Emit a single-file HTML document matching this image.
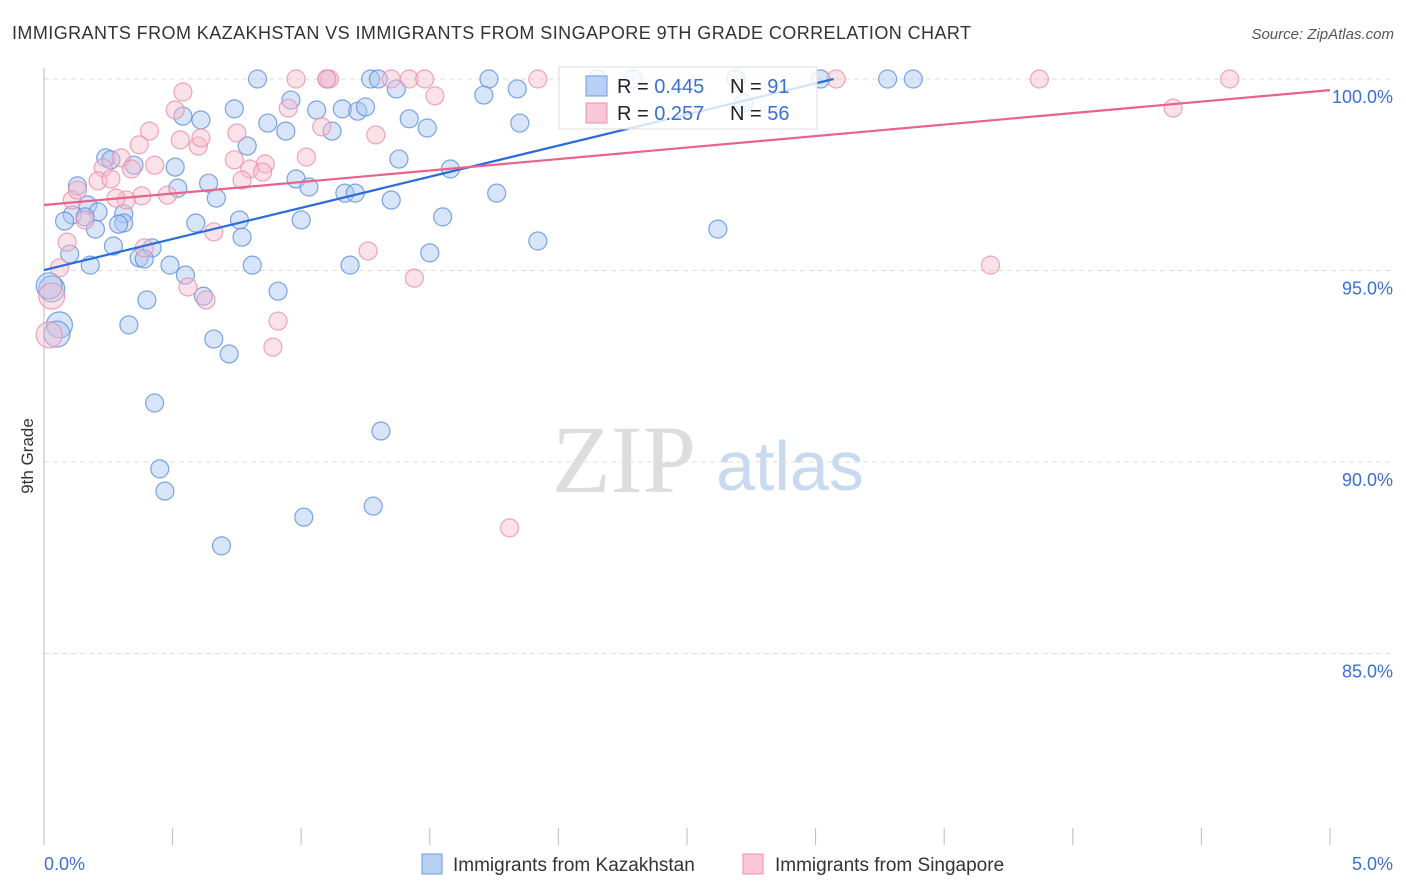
<!DOCTYPE html>
<html><head><meta charset="utf-8"><style>
body{margin:0;background:#fff;font-family:"Liberation Sans",sans-serif}
svg{display:block}
</style></head><body>
<svg id="chart" width="1406" height="892" xmlns="http://www.w3.org/2000/svg" font-family="Liberation Sans, sans-serif">
<text x="12" y="39" font-size="18" fill="#333" textLength="959" lengthAdjust="spacing">IMMIGRANTS FROM KAZAKHSTAN VS IMMIGRANTS FROM SINGAPORE 9TH GRADE CORRELATION CHART</text>
<text x="1394" y="39" font-size="15" fill="#555" text-anchor="end" font-style="italic">Source: ZipAtlas.com</text>
<text transform="translate(33,456) rotate(-90)" font-size="17" fill="#333" text-anchor="middle">9th Grade</text>
<g>
<text x="552" y="492" font-size="96" fill="#ddd" font-family="Liberation Serif, serif">ZIP</text>
<text x="716" y="490" font-size="70" fill="#c9d9f0">atlas</text>
</g>
<g id="grid"></g><g id="axes"></g><g id="pts"></g><g id="trend"></g>
<g>
<rect x="559" y="67" width="258" height="62" fill="#fff" fill-opacity="0.8" stroke="#ddd"/>
<rect x="586" y="76" width="21" height="20" fill="#b8d0f4" stroke="#6d9be0"/>
<rect x="586" y="103" width="21" height="20" fill="#f9c7d6" stroke="#ec90ae"/>
<text x="617" y="93" font-size="20" fill="#222">R = <tspan fill="#3b6fd4">0.445</tspan></text>
<text x="730" y="93" font-size="20" fill="#222">N = <tspan fill="#3b6fd4"> 91</tspan></text>
<text x="617" y="120" font-size="20" fill="#222">R = <tspan fill="#3b6fd4"> 0.257</tspan></text>
<text x="730" y="120" font-size="20" fill="#222">N = <tspan fill="#3b6fd4">56</tspan></text>
</g>
<g>
<rect x="422" y="854" width="20" height="20" fill="#b8d0f4" stroke="#6d9be0"/>
<text x="453" y="871" font-size="19" fill="#333">Immigrants from Kazakhstan</text>
<rect x="743" y="854" width="20" height="20" fill="#f9c7d6" stroke="#ec90ae"/>
<text x="775" y="871" font-size="19" fill="#333">Immigrants from Singapore</text>
</g>
</svg>
<script>
const yTicks=[100,95,90,85];
const yTickLabels=["100.0%","95.0%","90.0%","85.0%"];
const xTicks=[0,0.5,1,1.5,2,2.5,3,3.5,4,4.5,5];
const xEndLabels=["0.0%","5.0%"];
const blueX=[0.83,1.27,1.30,1.73,2.15,2.29,2.69,3.02,3.28,3.38,1.10,1.71,1.84,1.37,0.96,0.74,0.54,0.61,0.87,0.94,1.06,1.16,1.22,1.25,1.42,1.49,1.12,1.85,0.79,1.38,0.24,0.26,0.35,0.51,0.64,0.52,0.13,0.67,0.98,1.03,1.17,1.21,1.35,1.58,1.76,1.55,1.00,0.76,0.59,0.77,0.17,0.21,0.11,0.16,0.08,0.31,0.31,0.29,0.20,0.27,0.42,0.37,0.39,0.10,0.18,0.49,0.81,1.19,1.50,1.92,2.62,0.55,0.62,0.40,0.91,0.03,0.06,0.33,0.66,0.72,0.05,0.43,1.31,0.45,0.47,1.01,1.28,0.69,2.15,2.72,0.02];
const blueY=[100,100,100,100,100,100,100,100,100,100,100,99.58,99.74,99.74,99.45,99.22,99.03,98.93,98.85,98.64,99.19,99.22,99.16,99.27,98.96,98.72,98.64,98.85,98.25,97.91,97.94,97.89,97.75,97.70,97.28,97.15,97.21,96.89,97.39,97.18,97.02,97.02,96.84,97.65,97.02,96.40,96.32,96.32,96.24,95.87,96.71,96.53,96.45,96.40,96.29,96.48,96.24,96.21,96.08,95.64,95.59,95.33,95.30,95.43,95.14,95.14,95.14,95.14,95.46,95.77,96.08,94.88,94.33,94.23,94.46,94.52,93.58,93.58,93.21,92.82,93.34,91.54,90.81,89.82,89.24,88.56,88.85,87.81,99.87,99.37,94.60];
const pinkX=[0.98,1.11,1.42,1.35,1.48,1.92,3.08,3.87,4.61,0.54,1.52,4.39,0.51,0.95,1.10,1.08,1.29,0.41,0.53,0.60,0.61,0.75,0.37,0.30,0.74,0.86,1.02,0.43,0.34,0.23,0.21,0.26,0.80,0.85,0.77,0.38,0.32,0.28,0.11,0.16,0.48,0.13,0.66,0.39,0.09,0.06,1.26,0.56,0.63,1.44,3.68,0.91,0.89,1.81,0.03,0.02];
const pinkY=[100,100,100,100,100,100,100,100,100,99.66,99.56,99.24,99.19,99.24,100,98.75,98.54,98.64,98.41,98.25,98.46,98.59,98.28,97.94,97.89,97.78,97.96,97.75,97.65,97.68,97.34,97.39,97.65,97.57,97.36,96.95,96.84,96.89,96.84,96.32,96.97,97.10,96.01,95.59,95.74,95.07,95.51,94.57,94.23,94.80,95.14,93.68,93.00,88.28,94.33,93.32];
const blueTrendX=[0,3.07], blueTrendY=[95.01,100];
const pinkTrendX=[0,5], pinkTrendY=[96.71,99.71];
const NS="http://www.w3.org/2000/svg";
const X=v=>44+v*257.2, Y=v=>79+(100-v)*38.3;
function mk(t,a,p){const e=document.createElementNS(NS,t);for(const k in a)e.setAttribute(k,a[k]);p.appendChild(e);return e;}
const grid=document.getElementById('grid'),axes=document.getElementById('axes'),pts=document.getElementById('pts'),tr=document.getElementById('trend');
yTicks.forEach((t,i)=>{
 const l=mk('line',{x1:44,x2:1394,y1:Y(t),y2:Y(t),stroke:'#ddd','stroke-dasharray':'5,4'},grid);
 
 
 const tx=mk('text',{x:1393,y:Y(t)+24,'font-size':18,fill:'#3b6fd4','text-anchor':'end'},axes);
 tx.textContent=yTickLabels[i];
 
 
});
const ya=mk('line',{x1:44,x2:44,y1:68,y2:845,stroke:'#bbb'},axes);


xTicks.forEach(t=>{
 const l=mk('line',{x1:X(t),x2:X(t),y1:828,y2:845,stroke:'#bbb'},axes);
 
 
});
const xl0=mk('text',{x:44,y:870,'font-size':18,fill:'#3b6fd4'},axes);xl0.textContent=xEndLabels[0];


const xl1=mk('text',{x:1393,y:870,'font-size':18,fill:'#3b6fd4','text-anchor':'end'},axes);xl1.textContent=xEndLabels[1];


function dots(xs,ys,fill,stroke,name){xs.forEach((x,i)=>{
 const big=x<0.07&&ys[i]<95;
 const c=mk('circle',{cx:X(x),cy:Y(ys[i]),r:big?13:9,fill:fill,'fill-opacity':0.45,stroke:stroke,'stroke-opacity':0.8,'stroke-width':1.2},pts);
 
 
});}
dots(blueX,blueY,'#a9c6f2','#5b8fe0','kazakhstan-point');
dots(pinkX,pinkY,'#f7bccd','#ec8eac','singapore-point');
const bl=mk('line',{x1:X(blueTrendX[0]),y1:Y(blueTrendY[0]),x2:X(blueTrendX[1]),y2:Y(blueTrendY[1]),stroke:'#2a6dd9','stroke-width':2.2},tr);


const pl=mk('line',{x1:X(pinkTrendX[0]),y1:Y(pinkTrendY[0]),x2:X(pinkTrendX[1]),y2:Y(pinkTrendY[1]),stroke:'#e8628e','stroke-width':2.2},tr);


</script>
</body></html>
